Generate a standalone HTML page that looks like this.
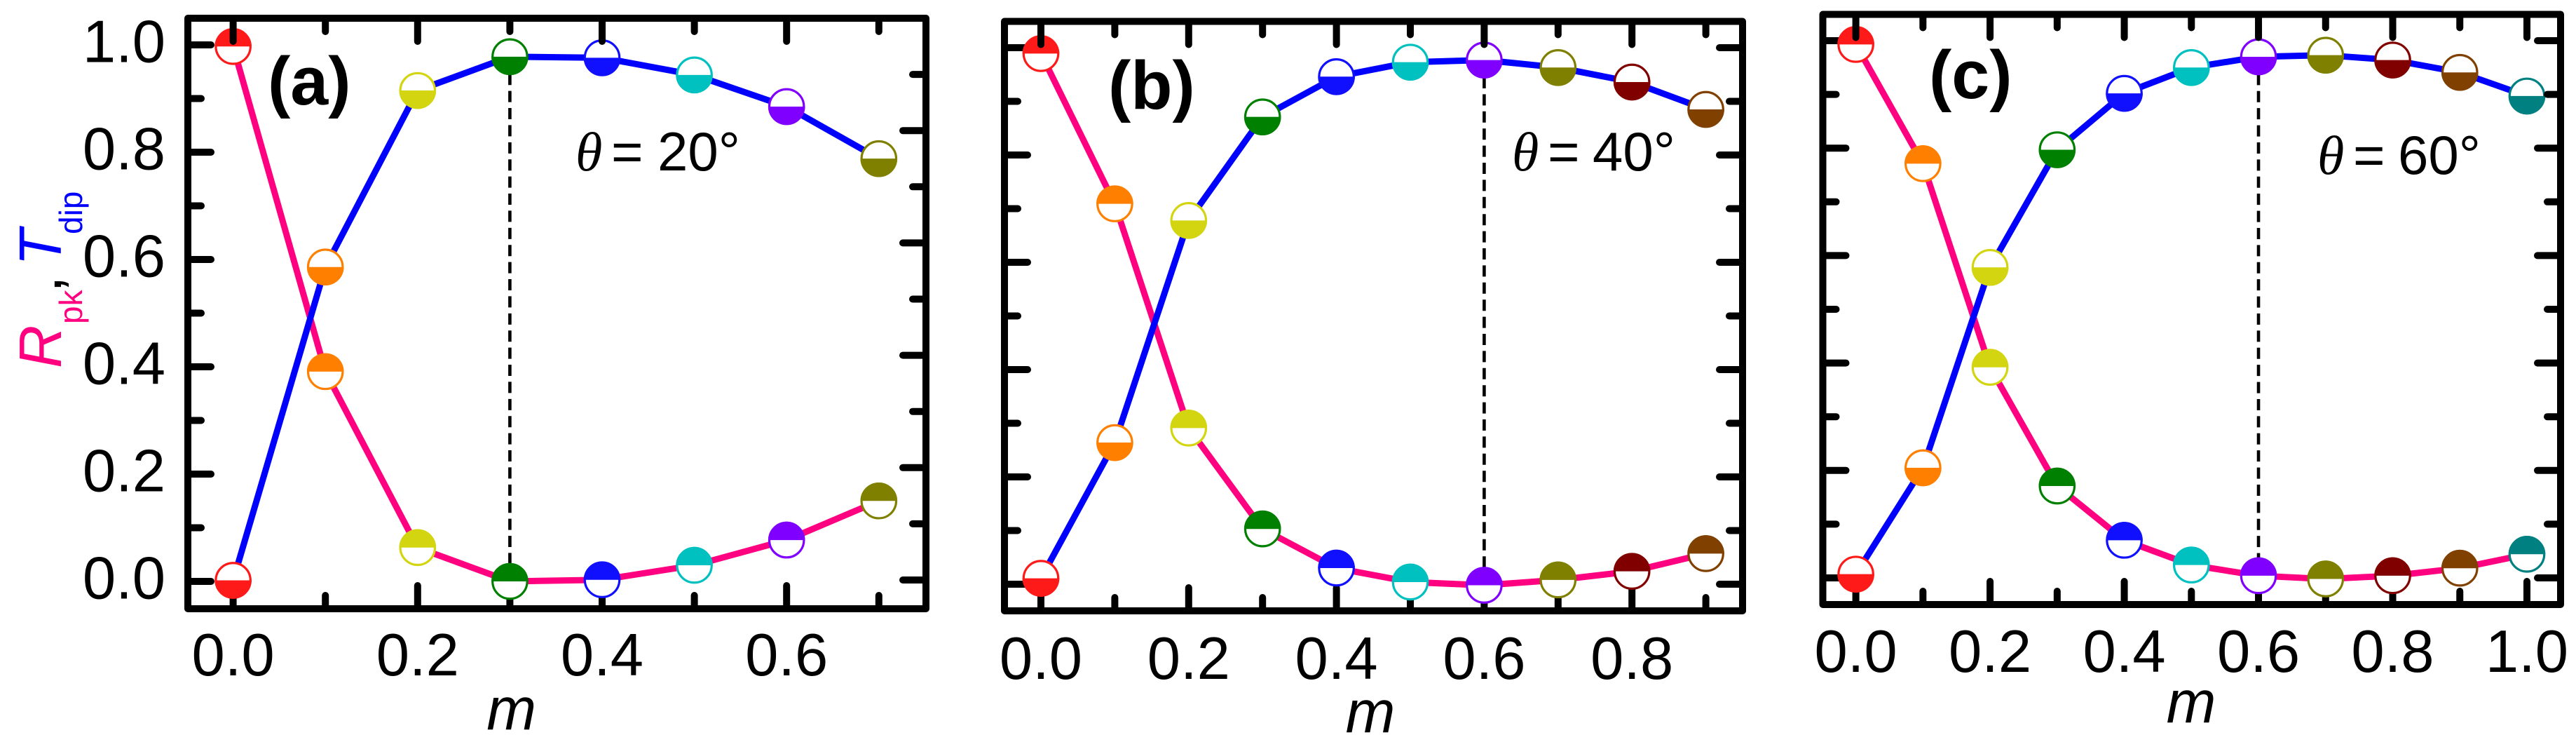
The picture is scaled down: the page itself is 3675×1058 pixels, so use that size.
<!DOCTYPE html>
<html lang="en">
<head>
<meta charset="utf-8">
<title>Rpk and Tdip versus m</title>
<style>
html,body{margin:0;padding:0;background:#fff;}
svg{display:block;}
text{font-family:"Liberation Sans",sans-serif;fill:#000;}
.tick{font-size:85px;}
.axis-m{font-size:85px;font-style:italic;}
.panel-tag{font-size:97px;font-weight:bold;}
.ann{font-size:78px;}
.theta{font-family:"Liberation Serif",serif;font-style:italic;font-size:78px;}
</style>
</head>
<body>
<svg id="fig" xmlns="http://www.w3.org/2000/svg" width="3675" height="1058" viewBox="0 0 3675 1058">
<rect x="0" y="0" width="3675" height="1058" fill="#fff"/>

<text transform="translate(87,525) rotate(-90)" font-size="85">
<tspan x="0" y="0" font-style="italic" style="fill:#ff0080">R</tspan><tspan x="63" y="30" font-size="46" style="fill:#ff0080">pk</tspan><tspan x="108" y="0">,</tspan><tspan x="146" y="0" font-style="italic" style="fill:#0000ff">T</tspan><tspan x="191" y="30" font-size="46" style="fill:#0000ff">dip</tspan>
</text>

<g id="panel-a">
<g id="a-back"></g>
<g id="a-marks"></g>
<g id="a-front"></g>
<text class="panel-tag" x="382" y="149">(a)</text>
<text class="theta" x="821" y="243">θ</text>
<text class="ann" x="872" y="243">=</text>
<text class="ann" x="938" y="243">20°</text>
<text class="axis-m" x="729.6" y="1040" text-anchor="middle">m</text>
</g>

<g id="panel-b">
<g id="b-back"></g>
<g id="b-marks"></g>
<g id="b-front"></g>
<text class="panel-tag" x="1581" y="155">(b)</text>
<text class="theta" x="2157" y="243">θ</text>
<text class="ann" x="2208" y="243">=</text>
<text class="ann" x="2272" y="243">40°</text>
<text class="axis-m" x="1955" y="1044" text-anchor="middle">m</text>
</g>

<g id="panel-c">
<g id="c-back"></g>
<g id="c-marks"></g>
<g id="c-front"></g>
<text class="panel-tag" x="2752" y="140">(c)</text>
<text class="theta" x="3306" y="248">θ</text>
<text class="ann" x="3357" y="248">=</text>
<text class="ann" x="3421" y="248">60°</text>
<text class="axis-m" x="3126" y="1030" text-anchor="middle">m</text>
</g>
</svg>

<script>
// ---- chart data ----
const mA = [0, 0.1, 0.2, 0.3, 0.4, 0.5, 0.6, 0.7];
const rA = [0.997, 0.391, 0.063, 0.000, 0.003, 0.030, 0.077, 0.150];
const tA = [0.002, 0.586, 0.915, 0.978, 0.976, 0.944, 0.885, 0.788];
const peakA = 0.3;

const mB = [0, 0.1, 0.2, 0.3, 0.4, 0.5, 0.6, 0.7, 0.8, 0.9];
const rB = [0.989, 0.709, 0.291, 0.103, 0.030, 0.004, -0.002, 0.008, 0.024, 0.057];
const tB = [0.011, 0.264, 0.678, 0.871, 0.946, 0.973, 0.977, 0.963, 0.936, 0.885];
const peakB = 0.6;

const mC = [0, 0.1, 0.2, 0.3, 0.4, 0.5, 0.6, 0.7, 0.8, 0.9, 1.0];
const rC = [0.993, 0.771, 0.392, 0.171, 0.070, 0.024, 0.004, -0.002, 0.004, 0.018, 0.044];
const tC = [0.007, 0.205, 0.578, 0.797, 0.902, 0.950, 0.970, 0.973, 0.964, 0.941, 0.897];
const peakC = 0.6;

const yTickValues = [0, 0.1, 0.2, 0.3, 0.4, 0.5, 0.6, 0.7, 0.8, 0.9, 1.0];
const yTickLabels = ["0.0", "", "0.2", "", "0.4", "", "0.6", "", "0.8", "", "1.0"];
const xTickLabelsA = ["0.0", "", "0.2", "", "0.4", "", "0.6", ""];
const xTickLabelsB = ["0.0", "", "0.2", "", "0.4", "", "0.6", "", "0.8", ""];
const xTickLabelsC = ["0.0", "", "0.2", "", "0.4", "", "0.6", "", "0.8", "", "1.0"];

const markerColors = ["#ff1a1a", "#ff8000", "#d2d510", "#008000", "#1010ff", "#00c0c0", "#8000ff", "#808000", "#800000", "#804000", "#008080"];

// ---- layout (pixels) ----
const layoutA = {key:"a", left:268, right:1321, top:26, bottom:868, x0:332.6, x1:1648.6, y0:829, y1:64, ry0:827, ry1:26, skipRightTop:true, labelY:963, showY:true};
const layoutB = {key:"b", left:1433, right:2486, top:30.5, bottom:871, x0:1485, x1:2539, y0:833, y1:68, ry0:833, ry1:68, skipRightTop:false, labelY:968, showY:false};
const layoutC = {key:"c", left:2600.5, right:3653, top:20.5, bottom:862, x0:2647.6, x1:3605, y0:824, y1:58, ry0:824, ry1:58, skipRightTop:false, labelY:958, showY:false};

const NS = "http://www.w3.org/2000/svg";
function mk(parent, tag, attrs) {
  const el = document.createElementNS(NS, tag);
  for (const k in attrs) el.setAttribute(k, attrs[k]);
  parent.appendChild(el);
  return el;
}
function scale(d0, d1, p0, p1) {
  return function (v) { return p0 + (v - d0) * (p1 - p0) / (d1 - d0); };
}

function drawSeries(group, name, ms, values, xs, ys, color, fillTop) {
  const pts = ms.map(function (m, i) { return xs(m).toFixed(2) + "," + ys(values[i]).toFixed(2); }).join(" ");
  const line = mk(group, "polyline", {points: pts, fill: "none", stroke: color, "stroke-width": 9, "stroke-linejoin": "round"});
  
  
}

function drawMarkers(group, name, ms, values, xs, ys, fillTop) {
  const R = 26.3;
  ms.forEach(function (m, i) {
    const cx = xs(m), cy = ys(values[i]), col = markerColors[i];
    const ring = mk(group, "circle", {cx: cx, cy: cy, r: R - 1.6, fill: "#fff", stroke: col, "stroke-width": 3.2});
    
    
    const sweep = fillTop ? 1 : 0;
    const half = mk(group, "path", {d: "M" + (cx - R) + " " + cy + " A" + R + " " + R + " 0 0 " + sweep + " " + (cx + R) + " " + cy + " Z", fill: col});
    
    
  });
}

function drawPanel(L, ms, rVals, tVals, peak, xLabels) {
  const back = document.getElementById(L.key + "-back");
  const marks = document.getElementById(L.key + "-marks");
  const front = document.getElementById(L.key + "-front");
  const xs = scale(0, 1, L.x0, L.x1);
  const ys = scale(0, 1, L.y0, L.y1);
  const ysRight = scale(0, 1, L.ry0, L.ry1);
  const TH = 10, MAJOR = 23, MINOR = 9;

  // frame
  const frame = mk(back, "rect", {x: L.left, y: L.top, width: L.right - L.left, height: L.bottom - L.top, fill: "none", stroke: "#000", "stroke-width": TH, "stroke-linejoin": "round"});
  
  

  // x ticks
  ms.forEach(function (m, i) {
    const len = (i % 2 === 0 ? MAJOR : MINOR) + 5;
    const x = xs(m);
    const bt = mk(back, "line", {x1: x, x2: x, y1: L.bottom, y2: L.bottom - 5 - len, stroke: "#000", "stroke-width": TH, "stroke-linecap": "round"});
    
    
    const tt = mk(front, "line", {x1: x, x2: x, y1: L.top, y2: L.top + 5 + len, stroke: "#000", "stroke-width": TH, "stroke-linecap": "round"});
    
    
    if (xLabels[i]) {
      const lb = mk(back, "text", {x: x, y: L.labelY, "text-anchor": "middle", class: "tick"});
      lb.textContent = xLabels[i];
      
      
    }
  });

  // y ticks
  yTickValues.forEach(function (v, i) {
    const len = (i % 2 === 0 ? MAJOR : MINOR) + 5;
    const yl = ys(v);
    const lt = mk(back, "line", {y1: yl, y2: yl, x1: L.left, x2: L.left + 5 + len, stroke: "#000", "stroke-width": TH, "stroke-linecap": "round"});
    
    
    if (!(L.skipRightTop && v === 1)) {
      const yr = ysRight(v);
      const rt = mk(front, "line", {y1: yr, y2: yr, x1: L.right, x2: L.right - 5 - len, stroke: "#000", "stroke-width": TH, "stroke-linecap": "round"});
      
      
    }
    if (L.showY && yTickLabels[i]) {
      const lb = mk(back, "text", {x: 236, y: yl + 24.5, "text-anchor": "end", class: "tick"});
      lb.textContent = yTickLabels[i];
      
      
    }
  });

  // dashed guide at the peak
  const pi = ms.indexOf(peak);
  const guide = mk(marks, "line", {x1: xs(peak), x2: xs(peak), y1: ys(tVals[pi]), y2: ys(rVals[pi]), stroke: "#000", "stroke-width": 4.6, "stroke-dasharray": "16 8.4"});
  
  

  drawSeries(marks, "r-peak", ms, rVals, xs, ys, "#ff0080");
  drawSeries(marks, "t-dip", ms, tVals, xs, ys, "#0000ff");
  drawMarkers(marks, "r-peak", ms, rVals, xs, ys, true);
  drawMarkers(marks, "t-dip", ms, tVals, xs, ys, false);
}

drawPanel(layoutA, mA, rA, tA, peakA, xTickLabelsA);
drawPanel(layoutB, mB, rB, tB, peakB, xTickLabelsB);
drawPanel(layoutC, mC, rC, tC, peakC, xTickLabelsC);
</script>
</body>
</html>
